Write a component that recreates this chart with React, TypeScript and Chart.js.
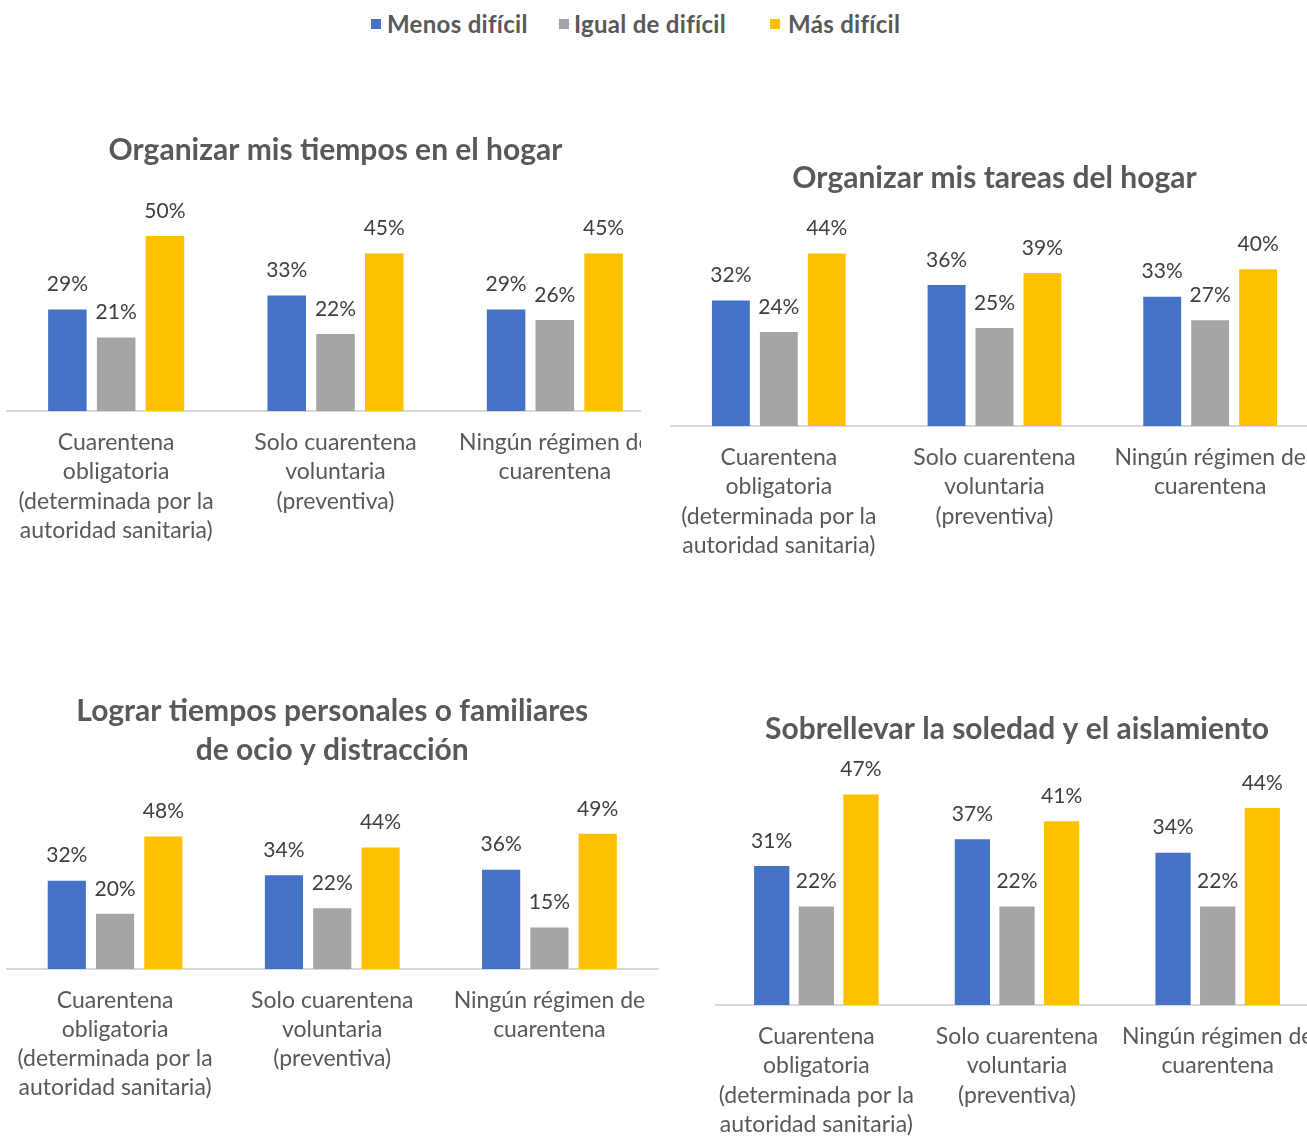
import React, { useEffect, useRef } from "react";
import { Chart, registerables } from "chart.js";

Chart.register(...registerables);

// ---------- data ----------
const categories: string[][] = [
  ["Cuarentena", "obligatoria", "(determinada por la", "autoridad sanitaria)"],
  ["Solo cuarentena", "voluntaria", "(preventiva)"],
  ["Ningún régimen de", "cuarentena"],
];

const seriesNames = ["Menos difícil", "Igual de difícil", "Más difícil"];
const seriesColors = ["#4472C4", "#A5A5A5", "#FFC000"];

const titleTiempos = "Organizar mis tiempos en el hogar";
const tiemposMenos = [29, 33, 29];
const tiemposIgual = [21, 22, 26];
const tiemposMas = [50, 45, 45];

const titleTareas = "Organizar mis tareas del hogar";
const tareasMenos = [32, 36, 33];
const tareasIgual = [24, 25, 27];
const tareasMas = [44, 39, 40];

const titleOcio = ["Lograr tiempos personales o familiares", "de ocio y distracción"];
const ocioMenos = [32, 34, 36];
const ocioIgual = [20, 22, 15];
const ocioMas = [48, 44, 49];

const titleSoledad = "Sobrellevar la soledad y el aislamiento";
const soledadMenos = [31, 37, 34];
const soledadIgual = [22, 22, 22];
const soledadMas = [47, 41, 44];

// ---------- styles ----------
const FONT = "Lato, 'DejaVu Sans', sans-serif";
const TEXT_GRAY = "#595959";
const LABEL_GRAY = "#404040";
const AXIS_HEIGHT = 150;

type Layout = {
  left: number;
  top: number;
  width: number;
  height: number;
  clipW: number;
  clipH: number;
  padL: number;
  padR: number;
  yMax: number;
  titleTop: number;
  titleBottom: number;
  tickPad: number;
};

const valueLabelPlugin = {
  id: "valueLabels",
  afterDatasetsDraw(chart: any) {
    const ctx = chart.ctx;
    ctx.save();
    ctx.font = `21px ${FONT}`;
    ctx.fillStyle = LABEL_GRAY;
    ctx.textAlign = "center";
    ctx.textBaseline = "middle";
    chart.data.datasets.forEach((ds: any, i: number) => {
      const meta = chart.getDatasetMeta(i);
      meta.data.forEach((bar: any, j: number) => {
        ctx.fillText(`${ds.data[j]}%`, bar.x, bar.y - 25);
      });
    });
    ctx.restore();
  },
};

function BarPanel(props: {
  title: string | string[];
  menos: number[];
  igual: number[];
  mas: number[];
  lay: Layout;
}) {
  const ref = useRef<HTMLCanvasElement>(null);
  const { title, menos, igual, mas, lay } = props;
  useEffect(() => {
    const values = [menos, igual, mas];
    const chart = new Chart(ref.current as HTMLCanvasElement, {
      type: "bar",
      data: {
        labels: categories as any,
        datasets: seriesNames.map((name, i) => ({
          label: name,
          data: values[i],
          backgroundColor: seriesColors[i],
          borderWidth: 0,
          categoryPercentage: 0.667,
          barPercentage: 0.79,
        })),
      },
      options: {
        responsive: false,
        animation: false,
        devicePixelRatio: 1,
        layout: { padding: { left: lay.padL, right: lay.padR, top: 0, bottom: 0 } },
        plugins: {
          legend: { display: false },
          tooltip: { enabled: false },
          title: {
            display: true,
            text: title as any,
            color: TEXT_GRAY,
            font: { family: FONT, size: 30, weight: "bold", lineHeight: "39px" } as any,
            padding: { top: lay.titleTop, bottom: lay.titleBottom },
          },
        },
        scales: {
          x: {
            grid: { display: false, drawTicks: false },
            border: { display: true, color: "#D9D9D9", width: 2 },
            ticks: {
              color: TEXT_GRAY,
              font: { family: FONT, size: 23, lineHeight: "29.3px" } as any,
              padding: lay.tickPad,
              maxRotation: 0,
              minRotation: 0,
              autoSkip: false,
            },
            afterFit: (s: any) => {
              s.height = AXIS_HEIGHT;
              s.paddingLeft = 0;
              s.paddingRight = 0;
            },
          } as any,
          y: { display: false, min: 0, max: lay.yMax },
        },
      },
      plugins: [valueLabelPlugin],
    });
    return () => chart.destroy();
  }, []);
  return (
    <div
      style={{
        position: "absolute",
        left: lay.left,
        top: lay.top,
        width: lay.clipW,
        height: lay.clipH,
        overflow: "hidden",
      }}
    >
      <canvas
        ref={ref}
        width={lay.width}
        height={lay.height}
        style={{ display: "block", width: lay.width, height: lay.height }}
      />
    </div>
  );
}

const layTiempos: Layout = {
  left: 0, top: 90, width: 670, height: 471, clipW: 641, clipH: 471,
  padL: 6.5, padR: 5.5, yMax: 55, titleTop: 40.5, titleBottom: 49, tickPad: 17,
};
const layTareas: Layout = {
  left: 665, top: 120, width: 660, height: 456, clipW: 642, clipH: 456,
  padL: 6, padR: 7, yMax: 50, titleTop: 38.5, titleBottom: 32.5, tickPad: 17,
};
const layOcio: Layout = {
  left: 0, top: 660, width: 665, height: 459, clipW: 665, clipH: 459,
  padL: 6.5, padR: 7, yMax: 55, titleTop: 31.5, titleBottom: 47.7, tickPad: 16.5,
};
const laySoledad: Layout = {
  left: 710, top: 680, width: 615, height: 475, clipW: 597, clipH: 456,
  padL: 6, padR: 7, yMax: 50, titleTop: 29.5, titleBottom: 32.5, tickPad: 17,
};

const legendPos = [
  { sq: 371, tx: 387 },
  { sq: 559, tx: 574 },
  { sq: 770, tx: 788 },
];

export default function App() {
  return (
    <div
      style={{
        position: "absolute",
        left: 0,
        top: 0,
        width: 1307,
        height: 1136,
        overflow: "hidden",
        background: "#ffffff",
      }}
    >
      {seriesNames.map((name, i) => (
        <React.Fragment key={name}>
          <div
            style={{
              position: "absolute",
              left: legendPos[i].sq,
              top: 19,
              width: 10,
              height: 10,
              background: seriesColors[i],
            }}
          />
          <div
            style={{
              position: "absolute",
              left: legendPos[i].tx,
              top: 8,
              height: 32,
              lineHeight: "32px",
              fontFamily: FONT,
              fontWeight: "bold",
              fontSize: 24,
              letterSpacing: "0.3px",
              color: TEXT_GRAY,
              whiteSpace: "nowrap",
            }}
          >
            {name}
          </div>
        </React.Fragment>
      ))}
      <BarPanel title={titleTiempos} menos={tiemposMenos} igual={tiemposIgual} mas={tiemposMas} lay={layTiempos} />
      <BarPanel title={titleTareas} menos={tareasMenos} igual={tareasIgual} mas={tareasMas} lay={layTareas} />
      <BarPanel title={titleOcio} menos={ocioMenos} igual={ocioIgual} mas={ocioMas} lay={layOcio} />
      <BarPanel title={titleSoledad} menos={soledadMenos} igual={soledadIgual} mas={soledadMas} lay={laySoledad} />
    </div>
  );
}
